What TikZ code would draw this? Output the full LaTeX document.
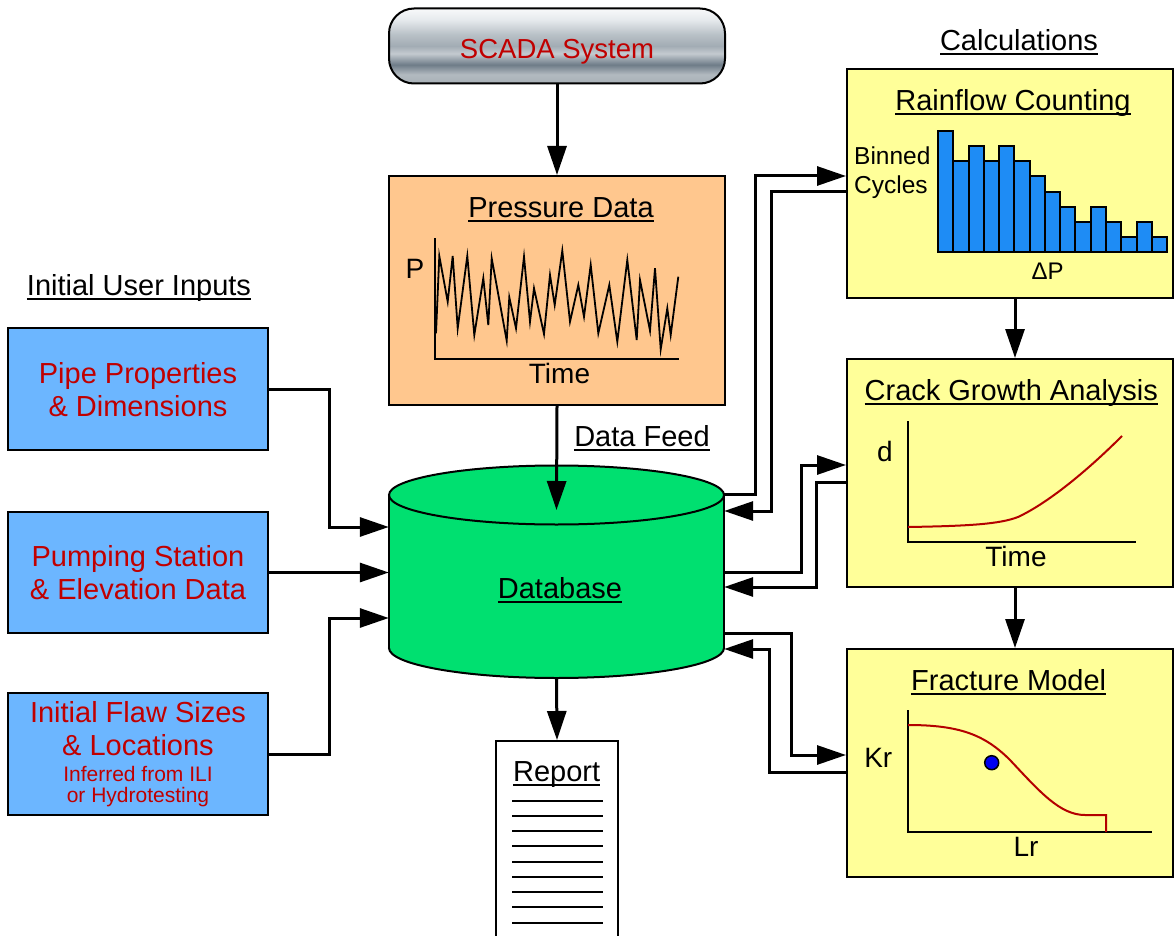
\documentclass[tikz,border=0pt]{standalone}
\usepackage{fontspec}
\setmainfont{Liberation Sans}
\usetikzlibrary{arrows.meta}
\definecolor{labelred}{HTML}{C00000}
\definecolor{curvered}{HTML}{B40000}
\definecolor{inputblue}{HTML}{6CB6FF}
\definecolor{calcyellow}{HTML}{FFFF99}
\definecolor{feedpeach}{HTML}{FFC78E}
\definecolor{dbgreen}{HTML}{00E070}
\definecolor{binblue}{HTML}{1E8CF5}
\definecolor{dotblue}{HTML}{0000F0}
\definecolor{metaltop}{HTML}{F8F9FA}
\definecolor{metallight}{HTML}{E6EAED}
\definecolor{metalgrey}{HTML}{B8C0C6}
\definecolor{metalmid}{HTML}{A2ACB4}
\definecolor{metalband}{HTML}{C4CAD0}
\definecolor{metaldark}{HTML}{6E7C88}
\definecolor{metalrim}{HTML}{B2BAC0}
\definecolor{metalbot}{HTML}{A8B0B7}
\pgfdeclareverticalshading{scadametal}{100bp}{%
  color(0bp)=(metalbot); color(25bp)=(metalbot); color(31bp)=(metalrim);
  color(37.5bp)=(metaldark); color(45bp)=(metalband); color(50bp)=(metalmid);
  color(57.5bp)=(metalgrey); color(67.5bp)=(metallight); color(75bp)=(metaltop);
  color(100bp)=(metaltop)}
\newcommand{\undl}[1]{\setbox0\hbox{#1}\rlap{\rule[-4.5pt]{\wd0}{2pt}}\box0}

\begin{document}
\begin{tikzpicture}[
  x=1pt,
  y=-1pt,
  every node/.style={font=\fontsize{29}{33}\selectfont, inner sep=0pt},
  link/.style={line width=3pt, -{Triangle[length=29pt, width=19pt]}},
  inbox/.style={draw, line width=2pt, fill=inputblue, text=labelred,
    minimum width=260pt, minimum height=122pt, align=center},
  calcbox/.style={draw, line width=2pt, fill=calcyellow,
    minimum width=326pt, minimum height=228pt},
  heading/.style={anchor=base},
  axislbl/.style={anchor=base, font=\fontsize{28}{33}\selectfont},
  axisline/.style={line width=2pt},
  curve/.style={curvered, line width=2pt},
  binbar/.style={draw, line width=2pt, fill=binblue},
  dbshape/.style={fill=dbgreen, draw, line width=2pt}
]
  \useasboundingbox (0,0) rectangle (1175,936);

  %% ---- SCADA and pressure record ----
  \node[draw, line width=2pt, rounded corners=25pt, shading=scadametal,
    minimum width=336pt, minimum height=75pt, text=labelred,
    text height=26pt, text depth=0pt,
    font=\fontsize{27.5}{33}\selectfont] (scada) at (557,46) {SCADA System};

  \node[calcbox, fill=feedpeach, minimum width=336pt, minimum height=229pt]
    (pressure) at (557,290.5) {};
  \node[heading] (pressuretitle) at (561,217.5) {\undl{Pressure Data}};
  \draw[axisline] (435,238) -- (435,359) -- (679,359);
  \draw[line width=1.8pt] plot coordinates {
    (436,333.3) (439.3,256) (447.7,301.7) (452.7,256) (457.7,328.3)
    (467.3,256) (474.3,335) (483.3,278.3) (488.3,325) (491.7,258.3)
    (506.7,340.7) (509.3,297.3) (516,328.3) (524,256.7) (530,321.7)
    (534,288.3) (544,334) (550,275) (554.7,305) (562.3,250.7)
    (570,321.7) (578.3,285) (584,316.7) (590.7,265) (598.3,333.3)
    (609.3,285) (617.3,341.7) (627.3,260) (636.7,340) (640,280)
    (650,330.7) (655,268.3) (660.7,349.3) (667.3,308.3) (670.7,335)
    (678.3,276.7)};
  \node[axislbl] (pressurey) at (415,278) {P};
  \node[axislbl] (pressurex) at (559.5,383) {Time};
  \node[heading] (feedlabel) at (642,446) {\undl{Data Feed}};

  %% ---- database ----
  \filldraw[dbshape] (556.5,648) ellipse[x radius=167.5, y radius=30];
  \fill[dbgreen] (389,495) rectangle (724,648);
  \draw[line width=2pt] (389,495) -- (389,648) (724,495) -- (724,648);
  \filldraw[dbshape] (556.5,495) ellipse[x radius=167.5, y radius=29.5];
  \node[minimum width=335pt, minimum height=212pt] (db) at (556.5,572) {};
  \node[heading] (dbtext) at (560,598) {\undl{Database}};

  %% ---- report ----
  \node[draw, line width=1.5pt, fill=white, minimum width=122pt,
    minimum height=230pt, anchor=north] (report) at (557,740) {};
  \node[heading] (reporttitle) at (556.7,781.7) {\undl{Report}};
  \foreach \k in {0,...,8}
    \draw[line width=2pt] (512,{800.7+15.25*\k}) -- (603,{800.7+15.25*\k});

  %% ---- user inputs ----
  \node[heading] (inputhead) at (139,295) {\undl{Initial User Inputs}};
  \node[inbox, text depth=-7pt] (pipe) at (138,389)
    {Pipe Properties\\\& Dimensions};
  \node[inbox, text depth=-7pt, minimum height=121pt] (pump) at (138,572.5)
    {Pumping Station\\\& Elevation Data};
  \node[inbox] (flaw) at (138,754)
    {Initial Flaw Sizes\\\& Locations\\[-7pt]
     \fontsize{21}{21}\selectfont Inferred from ILI\\[-12.3pt]
     \fontsize{21}{21}\selectfont or Hydrotesting};

  %% ---- calculations ----
  \node[heading] (calchead) at (1019,51) {\undl{Calculations}};

  \node[calcbox] (rainflow) at (1010,183.5) {};
  \node[heading] (rainflowtitle) at (1013,110.7) {\undl{Rainflow Counting}};
  \node[anchor=west, align=left, font=\fontsize{24.5}{29}\selectfont]
    (rainflowy) at (854,173) {Binned\\Cycles};
  \foreach \h [count=\i from 0] in {130.7,160.7,146,160.7,146,160.7,176,
      191.7,206.7,222.3,206.7,222.3,237.3,222.3,237.3}
    \draw[binbar] ({938+15.27*\i},252) rectangle ({938+15.27*(\i+1)},\h);
  \node[heading, font=\fontsize{24}{29}\selectfont] (rainflowx)
    at (1047.7,279) {ΔP};

  \node[calcbox] (crack) at (1010,473) {};
  \node[heading] (cracktitle) at (1011.3,400.7) {\undl{Crack Growth Analysis}};
  \draw[axisline] (908,421) -- (908,542) -- (1136,542);
  \draw[curve] (908,527) .. controls (970,526) and (1000,524) .. (1018,517)
    .. controls (1050,502) and (1090,468) .. (1122,436);
  \node[axislbl] (cracky) at (885,461.7) {d};
  \node[axislbl] (crackx) at (1016,566.7) {Time};

  \node[calcbox] (fracture) at (1010,763) {};
  \node[heading] (fracturetitle) at (1008.7,690.7) {\undl{Fracture Model}};
  \draw[axisline] (908,710) -- (908,832) -- (1152,832);
  \draw[curve] (908,725) .. controls (960,725) and (985,735) .. (1010,760)
    .. controls (1040,792) and (1060,815) .. (1085,815) -- (1106,815) -- (1106,832);
  \filldraw[fill=dotblue, draw=black, line width=1.5pt] (991.7,762.7) circle[radius=7];
  \node[axislbl] (fracturey) at (878.3,767.7) {Kr};
  \node[axislbl] (fracturex) at (1026,856.7) {Lr};

  %% ---- connectors ----
  \draw[link] (scada) -- (pressure);
  \draw[link] (pressure.south) -- ([yshift=62pt]db.center);
  \draw[link] (db.south) -- (report.north);

  \draw[link] (pipe.east) -- ++(60,0) |- ([yshift=45pt]db.west);
  \draw[link] (pump.east) -- (pump.east -| db.west);
  \draw[link] (flaw.east) -- ++(60,0) |- ([yshift=-46pt]db.west);

  \draw[link] ([yshift=78pt]db.east) -- ++(31,0) |- ([yshift=7.5pt]rainflow.west);
  \draw[link] ([yshift=-8.5pt]rainflow.west) -- ++(-75,0) |- ([yshift=61pt]db.east);
  \draw[link] (db.east) -- ++(77,0) |- ([yshift=8pt]crack.west);
  \draw[link] ([yshift=-9pt]crack.west) -- ++(-30,0) |- ([yshift=-15pt]db.east);
  \draw[link] ([yshift=-61pt]db.east) -- ++(67,0) |- ([yshift=8pt]fracture.west);
  \draw[link] ([yshift=-9pt]fracture.west) -- ++(-77,0) |- ([yshift=-77pt]db.east);

  \draw[link] ([xshift=5pt]rainflow.south) -- ([xshift=5pt]crack.north);
  \draw[link] ([xshift=5pt]crack.south) -- ([xshift=5pt]fracture.north);
\end{tikzpicture}
\end{document}
